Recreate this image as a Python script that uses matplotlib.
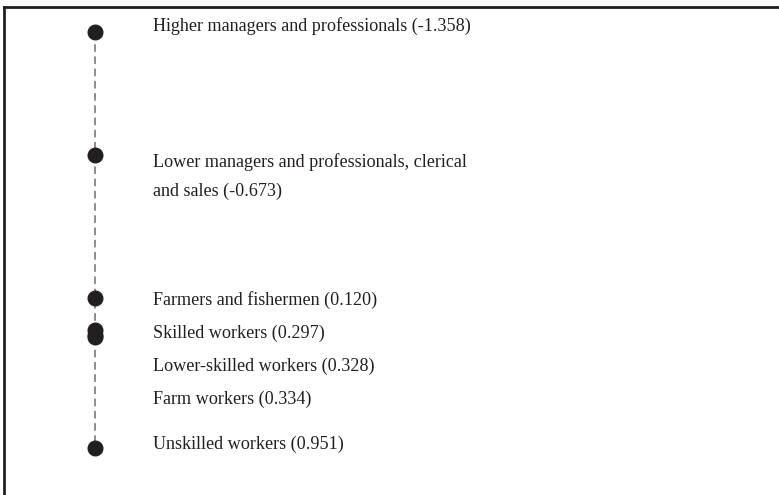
import numpy as np
import matplotlib.pyplot as plt

# occupational class scores (latent scale), top to bottom
labels = [
    "Higher managers and professionals (-1.358)",
    "Lower managers and professionals, clerical\nand sales (-0.673)",
    "Farmers and fishermen (0.120)",
    "Skilled workers (0.297)",
    "Lower-skilled workers (0.328)",
    "Farm workers (0.334)",
    "Unskilled workers (0.951)",
]
scores = [-1.358, -0.673, 0.120, 0.297, 0.328, 0.334, 0.951]

# where each label sits on the scale (spread so they don't collide)
label_y = [-1.392, -0.556, 0.131, 0.314, 0.497, 0.681, 0.931]

ink = '#231f20'
W, H = 779, 495

fig = plt.figure(figsize=(W / 100, H / 100), dpi=100, facecolor='w')
ax = fig.add_axes([4 / W, 0, 1 - 4 / W, (H - 7) / H])

px = 180.0  # pixels per unit on the scale
ax.set_xlim(4, W)
ax.set_ylim(-1.358 + (H - 32) / px, -1.358 - 25 / px)

xs = np.full(len(scores), 95)
ax.plot(xs, scores, ls=(0, (5, 3)), color='#6e6e6e', lw=1.1, zorder=1)
ax.plot(xs, scores, 'o', color=ink, ms=10.5, zorder=2, clip_on=False)

for lab, y in zip(labels, label_y):
    ax.text(153, y, lab, va='center', ha='left', color=ink,
            family='Liberation Serif', fontsize=13.1, linespacing=1.85)

ax.set_xticks([])
ax.set_yticks([])
for s in ['right', 'bottom']:
    ax.spines[s].set_visible(False)
for s in ['top', 'left']:
    ax.spines[s].set_linewidth(2)
    ax.spines[s].set_color(ink)

fig.savefig('out.png', dpi=100)
